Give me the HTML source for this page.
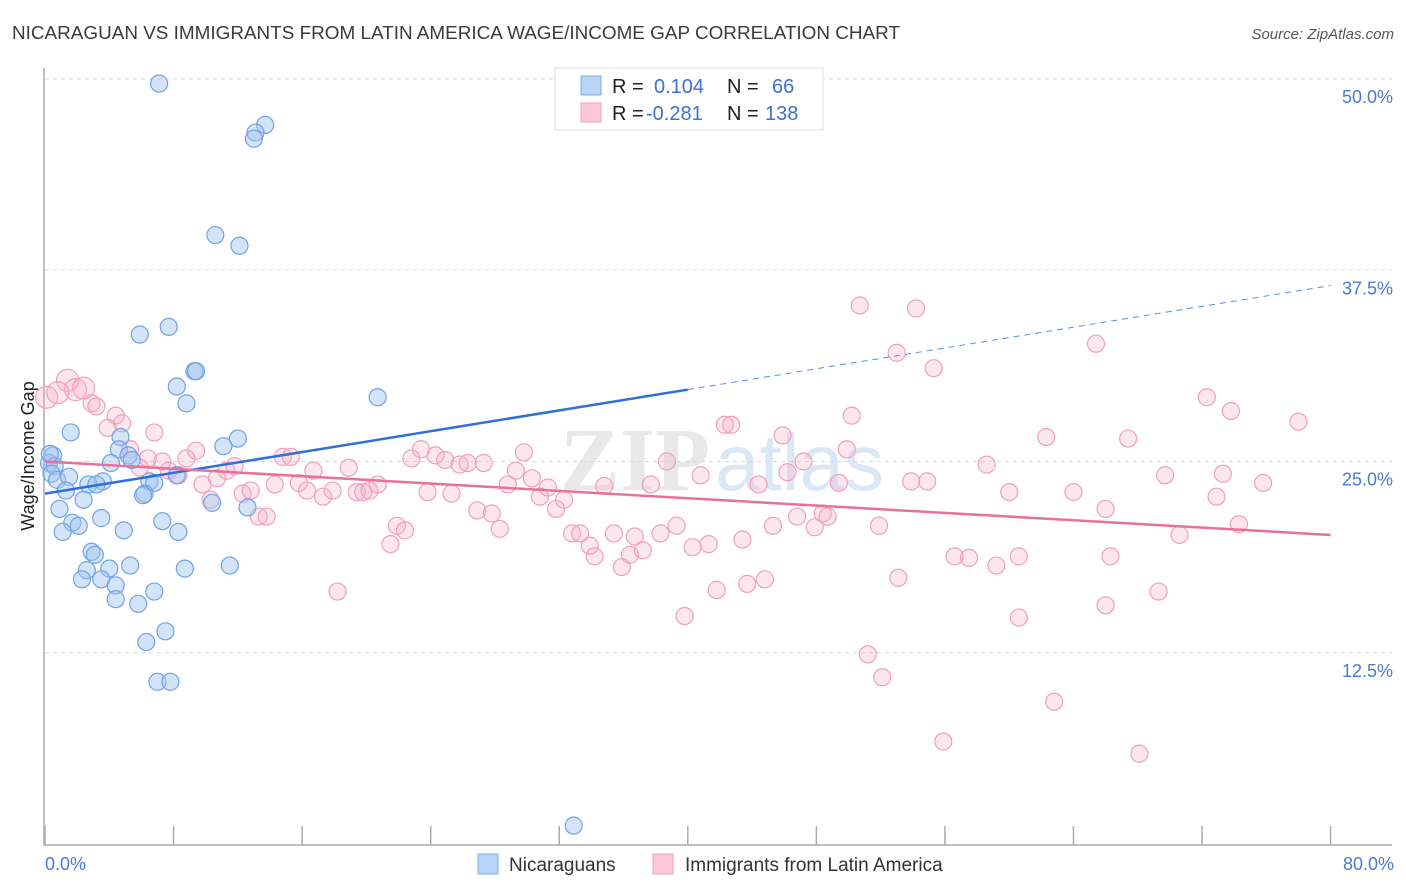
<!DOCTYPE html>
<html><head><meta charset="utf-8"><style>
body{margin:0;background:#fff;font-family:"Liberation Sans",sans-serif}
svg{display:block}
</style></head><body>
<svg id="chart" width="1406" height="892" xmlns="http://www.w3.org/2000/svg">
<text x="12" y="39" font-size="18" fill="#3a3a3a" textLength="888" lengthAdjust="spacingAndGlyphs">NICARAGUAN VS IMMIGRANTS FROM LATIN AMERICA WAGE/INCOME GAP CORRELATION CHART</text>
<text x="1394" y="39" font-size="15" fill="#555" font-style="italic" text-anchor="end">Source: ZipAtlas.com</text>
<text x="560" y="490" font-size="90" fill="#e8e8e8" font-weight="bold" font-family="Liberation Serif,serif">ZIP</text>
<text x="715" y="490" font-size="80" fill="#dce7f6">atlas</text>
<g id="grid"></g>
<g id="axes"></g>
<g id="pts"></g>
<g id="trends"></g>
<text transform="translate(34,456) rotate(-90)" font-size="18" fill="#222" text-anchor="middle">Wage/Income Gap</text>
<text x="45" y="870" font-size="18" fill="#4a7bd0">0.0%</text>
<text x="1394" y="870" font-size="18" fill="#4a7bd0" text-anchor="end">80.0%</text>
<g>
<rect x="555" y="68" width="268" height="62" fill="#fff" stroke="#ddd"/>
<rect x="581" y="76" width="20" height="19" fill="#b8d4f6" stroke="#7aaee8"/>
<rect x="581" y="103" width="20" height="19" fill="#fcc8d8" stroke="#f0a0bc"/>
<text x="612" y="93" font-size="20" fill="#222">R =</text>
<text x="654" y="93" font-size="20" fill="#3d72d0">0.104</text>
<text x="727" y="93" font-size="20" fill="#222">N =</text>
<text x="772" y="93" font-size="20" fill="#3d72d0">66</text>
<text x="612" y="120" font-size="20" fill="#222">R =</text>
<text x="646" y="120" font-size="20" fill="#3d72d0">-0.281</text>
<text x="727" y="120" font-size="20" fill="#222">N =</text>
<text x="765" y="120" font-size="20" fill="#3d72d0">138</text>
</g>
<g>
<rect x="478" y="854" width="20" height="20" fill="#b8d4f6" stroke="#7aaee8"/>
<text x="509" y="871" font-size="19" fill="#333">Nicaraguans</text>
<rect x="653" y="854" width="20" height="20" fill="#fcc8d8" stroke="#f0a0bc"/>
<text x="685" y="871" font-size="19" fill="#333">Immigrants from Latin America</text>
</g>
</svg>
<script>
const yTicks=[12.5,25,37.5,50];
const yTickLabels=["12.5%","25.0%","37.5%","50.0%"];
const xTicks=[0,8,16,24,32,40,48,56,64,72,80];
const blueX=[7.1,13.7,13.1,13.0,10.6,12.1,7.7,5.9,9.3,9.4,8.2,8.8,20.7,1.6,12.0,4.7,11.1,0.5,0.25,0.6,4.6,5.2,4.1,5.4,0.4,0.75,1.5,3.6,2.7,3.2,6.5,6.8,8.2,1.3,6.2,6.1,2.4,10.4,12.6,0.9,3.5,1.7,2.1,7.3,4.9,1.1,8.3,2.9,3.1,2.6,4.0,5.3,8.7,11.5,2.3,3.5,4.4,6.8,4.4,5.8,7.5,6.3,7.0,7.8,32.9,0.3];
const blueY=[49.7,47.0,46.5,46.1,39.8,39.1,33.8,33.3,30.9,30.9,29.9,28.8,29.2,26.9,26.5,26.6,26.0,25.4,24.9,24.7,25.8,25.4,24.9,25.1,24.2,23.8,24.0,23.7,23.5,23.5,23.7,23.6,24.1,23.1,22.9,22.8,22.5,22.3,22.0,21.9,21.3,21.0,20.8,21.1,20.5,20.4,20.4,19.1,18.9,17.9,18.0,18.2,18.0,18.2,17.3,17.3,16.9,16.5,16.0,15.7,13.9,13.2,10.6,10.6,1.2,25.5];
const pinkX=[0.1,1.4,1.9,2.4,0.8,2.9,3.2,4.4,4.8,3.9,6.8,9.4,5.3,6.4,8.8,7.3,5.9,7.7,8.3,11.8,11.3,10.7,9.8,10.3,12.3,12.8,13.3,13.8,14.8,15.3,14.3,15.8,16.7,16.3,17.3,17.9,18.9,19.4,19.8,20.2,20.7,21.9,22.4,21.5,18.2,22.8,23.4,24.3,24.9,25.8,26.3,27.3,23.8,25.3,26.9,27.8,28.3,29.8,29.3,28.8,30.3,30.8,31.3,32.3,31.8,32.8,33.3,33.9,34.2,34.8,35.4,35.9,36.4,36.7,37.2,37.7,38.3,38.7,39.3,39.8,40.3,40.8,41.3,41.8,42.3,42.7,43.4,43.7,44.4,44.8,45.3,45.9,46.2,46.8,47.2,47.9,48.4,48.7,49.4,49.9,50.2,50.7,51.2,51.9,52.1,53.0,53.1,53.9,54.2,54.9,55.3,55.9,56.6,57.5,58.6,59.2,60.0,60.6,60.6,62.3,62.8,64.0,65.4,66.0,66.3,66.0,67.4,68.1,69.3,69.7,70.6,72.3,72.9,73.3,73.8,75.8,74.3,78.0];
const pinkY=[29.2,30.3,29.7,29.8,29.5,28.8,28.6,28.0,27.5,27.2,26.9,25.7,25.8,25.2,25.2,25.0,24.6,24.4,24.1,24.7,24.4,23.9,23.5,22.5,22.9,23.1,21.4,21.4,25.3,25.3,23.5,23.6,24.4,23.1,22.7,23.1,24.6,23.0,23.0,23.1,23.5,20.8,20.5,19.6,16.5,25.2,25.8,25.4,25.1,24.8,24.9,24.9,23.0,22.9,21.8,21.6,20.6,25.6,24.4,23.5,23.9,22.7,23.3,22.5,21.9,20.3,20.3,19.5,18.8,23.4,20.3,18.1,18.9,20.1,19.2,23.5,20.3,25.0,20.8,14.9,19.4,24.1,19.6,16.6,27.4,27.4,19.9,17.0,23.5,17.3,20.8,26.7,24.3,21.4,25.0,20.7,21.6,21.4,23.6,25.8,28.0,35.2,12.4,20.8,10.9,32.1,17.4,23.7,35.0,23.7,31.1,6.7,18.8,18.7,24.8,18.2,23.0,18.8,14.8,26.6,9.3,23.0,32.7,21.9,18.8,15.6,26.5,5.9,16.5,24.1,20.2,29.2,22.7,24.2,28.3,23.6,20.9,27.6];
const blueTrend=[22.9,0.17];   // intercept, slope
const pinkTrend=[25.0,-0.06];
const NS="http://www.w3.org/2000/svg";
const X=v=>45+v*16.07, Y=v=>844-v*15.3;
function mk(t,a,p){const e=document.createElementNS(NS,t);for(const k in a)e.setAttribute(k,a[k]);p.appendChild(e);return e;}
const grid=document.getElementById('grid'),axes=document.getElementById('axes'),pts=document.getElementById('pts'),tr=document.getElementById('trends');
yTicks.forEach((t,i)=>{
 const l=mk('line',{x1:45,x2:1392,y1:Y(t),y2:Y(t),stroke:'#d8d8d8','stroke-dasharray':'4,4'},grid);
 
 
 const tx=mk('text',{x:1393,y:Y(t)+24,'font-size':18,fill:'#4a7bd0','text-anchor':'end'},grid);
 tx.textContent=yTickLabels[i];
 
 
});
const ax=mk('path',{d:'M44,68V845H1392',fill:'none',stroke:'#aaa','stroke-width':1.5},axes);


xTicks.forEach(t=>{const l=mk('line',{x1:X(t),x2:X(t),y1:826,y2:845,stroke:'#aaa','stroke-width':1.5},axes);
 
 });
pinkX.forEach((x,i)=>{const c=mk('circle',{cx:X(x),cy:Y(pinkY[i]),r:(x<3&&pinkY[i]>29)?11:8.5,fill:'rgba(247,175,200,0.3)',stroke:'#f0a0bc','stroke-width':1.2},pts);
 
 });
blueX.forEach((x,i)=>{const c=mk('circle',{cx:X(x),cy:Y(blueY[i]),r:8.5,fill:'rgba(160,196,240,0.45)',stroke:'#6fa3e6','stroke-width':1.2},pts);
 
 });
const b=v=>blueTrend[0]+blueTrend[1]*v, p=v=>pinkTrend[0]+pinkTrend[1]*v;
let l=mk('line',{x1:X(0),y1:Y(b(0)),x2:X(40),y2:Y(b(40)),stroke:'#2f6fd8','stroke-width':2.5},tr);


l=mk('line',{x1:X(40),y1:Y(b(40)),x2:X(80),y2:Y(b(80)),stroke:'#5b8fe0','stroke-width':1,'stroke-dasharray':'6,5'},tr);


l=mk('line',{x1:X(0),y1:Y(p(0)),x2:X(80),y2:Y(p(80)),stroke:'#e8709a','stroke-width':2.5},tr);


</script>
</body></html>
